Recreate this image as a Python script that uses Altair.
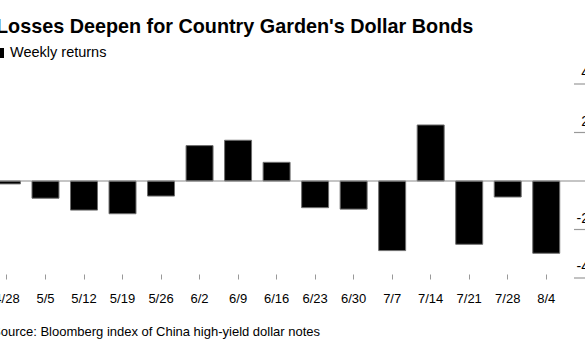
import altair as alt
import pandas as pd

weeks = ["4/28", "5/5", "5/12", "5/19", "5/26", "6/2", "6/9", "6/16",
         "6/23", "6/30", "7/7", "7/14", "7/21", "7/28", "8/4"]
returns = [-0.12, -0.71, -1.20, -1.35, -0.62, 1.46, 1.68, 0.77,
           -1.10, -1.16, -2.87, 2.31, -2.61, -0.66, -2.98]
tick_values = [4, 2, -2, -4]
tick_labels = ["4", "2", "-2", "-4"]

title_text = "Losses Deepen for Country Garden's Dollar Bonds"
legend_text = "Weekly returns"
source_text = "Source: Bloomberg index of China high-yield dollar notes"

df = pd.DataFrame({"week": weeks, "ret": returns})
ticks = pd.DataFrame({"v": tick_values, "label": tick_labels})
zero = pd.DataFrame({"v": [0]})

FONT = "Liberation Sans"

xscale = alt.Scale(domain=weeks, range=[-12.3, 565.5], paddingInner=0.3, paddingOuter=0.15)
yscale = alt.Scale(domain=[-4, 4], range=[194, 0], nice=False, zero=False)

bars = alt.Chart(df).mark_bar(color="black", stroke="#6e6e6e", strokeWidth=1).encode(
    x=alt.X("week:N", sort=weeks, scale=xscale,
            axis=alt.Axis(title=None, domain=False, grid=False, labelAngle=0,
                          tickSize=5, tickColor="#999999", tickWidth=1,
                          labelFont=FONT, labelFontSize=13, labelColor="#000000",
                          labelPadding=13)),
    y=alt.Y("ret:Q", scale=yscale, axis=None),
)

zero_line = alt.Chart(zero).mark_rule(color="#8c8c8c", strokeWidth=1.2).encode(
    y=alt.Y("v:Q", scale=yscale),
    x=alt.value(0), x2=alt.value(585),
)

tick_rules = alt.Chart(ticks).mark_rule(color="#999999", strokeWidth=1.2).encode(
    y=alt.Y("v:Q", scale=yscale),
    x=alt.value(574), x2=alt.value(585),
)

tick_text = alt.Chart(ticks).mark_text(
    align="right", baseline="alphabetic", dy=-7, font=FONT, fontSize=14, color="#000000"
).encode(
    y=alt.Y("v:Q", scale=yscale),
    x=alt.value(589),
    text="label:N",
)

title = alt.Chart(pd.DataFrame({"t": [title_text]})).mark_text(
    align="left", baseline="alphabetic", font=FONT, fontSize=19.8, fontWeight="bold", color="#000000"
).encode(x=alt.value(-4), y=alt.value(-51), text="t:N")

legend_sq = alt.Chart(pd.DataFrame({"t": [legend_text]})).mark_rect(color="black").encode(
    x=alt.value(-7), x2=alt.value(4), y=alt.value(-36), y2=alt.value(-26)
)

legend = alt.Chart(pd.DataFrame({"t": [legend_text]})).mark_text(
    align="left", baseline="middle", font=FONT, fontSize=14.5, color="#000000"
).encode(x=alt.value(10), y=alt.value(-31), text="t:N")

source = alt.Chart(pd.DataFrame({"t": [source_text]})).mark_text(
    align="left", baseline="middle", font=FONT, fontSize=13, color="#000000"
).encode(x=alt.value(-8), y=alt.value(248), text="t:N")

chart = alt.layer(bars, zero_line, tick_rules, tick_text, title, legend_sq, legend, source).properties(
    width=585, height=190,
    padding={"left": 0, "top": 84, "right": 0, "bottom": 78},
    autosize=alt.AutoSizeParams(type="none"),
    background="white",
).configure_view(stroke=None, strokeWidth=0)

chart.save("out.html", embed_options={"renderer": "svg", "actions": False})
